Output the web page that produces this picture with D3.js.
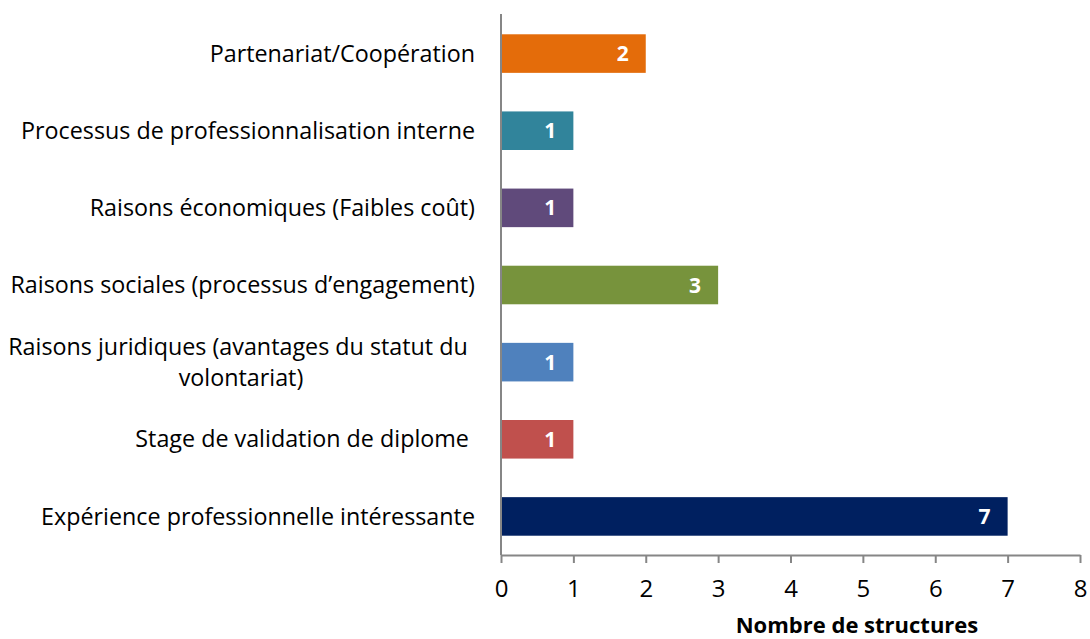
<!DOCTYPE html>
<html>
<head>
<meta charset="utf-8">
<script src="https://cdn.jsdelivr.net/npm/d3@7"></script>
<style>
  body { margin: 0; background: #fff; }
  text { font-family: "Open Sans", "Noto Sans", sans-serif; }
</style>
</head>
<body>
<div id="chart"></div>
<script>
// Categories from top to bottom, each label split into its lines.
var categories = [
  ['Partenariat/Coopération'],
  ['Processus de professionnalisation interne'],
  ['Raisons économiques (Faibles coût)'],
  ['Raisons sociales (processus d\u2019engagement)'],
  ['Raisons juridiques (avantages du statut du ', 'volontariat)'],
  ['Stage de validation de diplome '],
  ['Expérience professionnelle intéressante']
];
var values = [2, 1, 1, 3, 1, 1, 7];
var colors = ['#E46C0A', '#31849B', '#604A7B', '#77933C', '#4F81BD', '#C0504D', '#002060'];
var xTicks = [0, 1, 2, 3, 4, 5, 6, 7, 8];
var xTitle = 'Nombre de structures';

var width = 1090, height = 639;
var margin = { left: 501, right: 10, top: 15, bottom: 84 };

var svg = d3.select('#chart')
  .append('svg')
    .attr('width', width)
    .attr('height', height);

var xScale = d3.scaleLinear()
  .domain([0, 8])
  .range([margin.left, 1080]);

var yScale = d3.scaleBand()
  .domain(d3.range(categories.length))
  .range([margin.top, height - margin.bottom])
  .paddingInner(0.5)
  .paddingOuter(0.25);

// Bars
svg.selectAll('rect.bar')
  .data(values)
  .enter()
  .append('rect')
    .attr('class', 'bar')
    .attr('x', xScale(0))
    .attr('y', function(d, i){ return yScale(i); })
    .attr('width', function(d){ return xScale(d) - xScale(0); })
    .attr('height', yScale.bandwidth())
    .attr('fill', function(d, i){ return colors[i]; });

// Value labels inside bars
svg.selectAll('text.val')
  .data(values)
  .enter()
  .append('text')
    .attr('class', 'val')
    .attr('x', function(d){ return xScale(d) - 23; })
    .attr('y', function(d, i){ return yScale(i) + yScale.bandwidth() / 2; })
    .attr('dy', '0.36em')
    .attr('text-anchor', 'middle')
    .attr('fill', '#fff')
    .attr('font-weight', 'bold')
    .attr('font-size', 21)
    .text(function(d){ return d; });

// X axis
var xAxis = svg.append('g')
  .attr('transform', 'translate(0,' + (height - margin.bottom) + ')')
  .call(d3.axisBottom(xScale).tickValues(xTicks).tickSize(8).tickPadding(17).tickSizeOuter(0));
xAxis.select('.domain').attr('stroke', '#868686').attr('stroke-width', 2);
xAxis.selectAll('.tick line').attr('stroke', '#868686').attr('stroke-width', 2);
xAxis.selectAll('.tick text')
  .attr('font-size', 24)
  .attr('fill', '#000')
  .style('font-family', '"Open Sans", sans-serif');

// Y axis line
svg.append('line')
  .attr('x1', xScale(0)).attr('x2', xScale(0))
  .attr('y1', 14).attr('y2', height - margin.bottom)
  .attr('stroke', '#868686')
  .attr('stroke-width', 2);

// Category labels, wrapped lines centred on each other
var lineH = 31;
var labels = svg.selectAll('g.cat')
  .data(categories)
  .enter()
  .append('g')
    .attr('class', 'cat');

labels.each(function(lines, i){
  var g = d3.select(this);
  var cy = yScale(i) + yScale.bandwidth() / 2;
  var t = g.append('text')
    .attr('font-size', 23.3)
    .attr('fill', '#000')
    .attr('text-anchor', lines.length > 1 ? 'middle' : 'end')
    .attr('xml:space', 'preserve')
    .style('white-space', 'pre');
  lines.forEach(function(l, j){
    t.append('tspan')
      .attr('x', lines.length > 1 ? 241 : 475)
      .attr('y', cy + (j - (lines.length - 1) / 2) * lineH)
      .attr('dy', '0.35em')
      .text(l);
  });
});

// Axis title
svg.append('text')
  .attr('x', 857)
  .attr('y', 633)
  .attr('text-anchor', 'middle')
  .attr('font-size', 22)
  .attr('font-weight', 'bold')
  .text(xTitle);
</script>
</body>
</html>
